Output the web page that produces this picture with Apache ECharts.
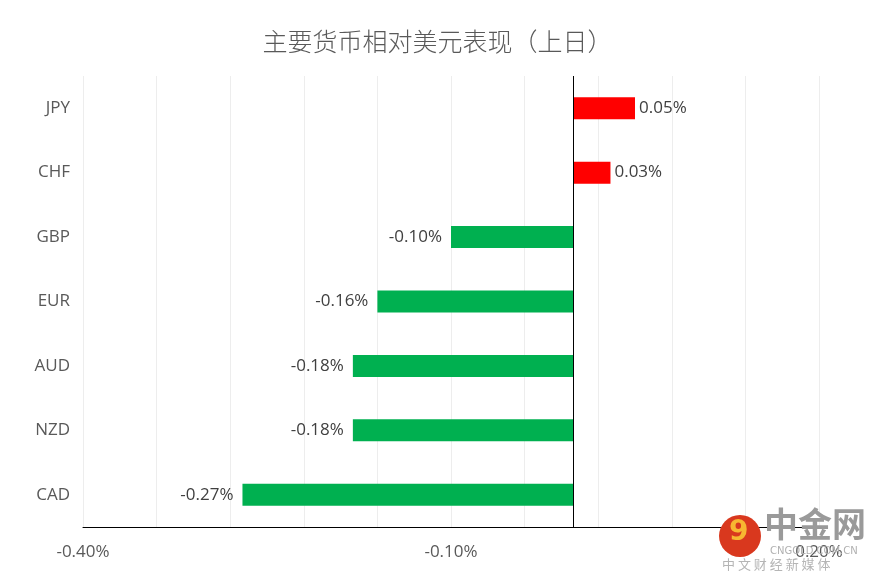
<!DOCTYPE html>
<html><head><meta charset="utf-8">
<script src="https://cdn.jsdelivr.net/npm/echarts@6/dist/echarts.min.js"></script>
<style>html,body{margin:0;padding:0;background:#fff}#c{width:875px;height:584px}</style>
</head><body><div id="c"></div>
<script>
var titleText = '主要货币相对美元表现（上日）';
var categories = ['JPY','CHF','GBP','EUR','AUD','NZD','CAD'];
var values = [0.05, 0.03, -0.10, -0.16, -0.18, -0.18, -0.27];
var axisMin = -0.40, axisMax = 0.20, axisStep = 0.06;
var labelledTicks = [-0.40, -0.10, 0.20];

var chart = echarts.init(document.getElementById('c'));
var font = '"Open Sans", "Noto Sans", sans-serif';
var data = values.map(function(v){
  return {
    value: v,
    itemStyle: {color: v >= 0 ? '#FF0000' : '#00B050'},
    label: {position: v >= 0 ? 'right' : 'left', distance: v >= 0 ? 4 : 9}
  };
});
chart.setOption({
  animation: false,
  title: {text: titleText, left: 'center', top: 24,
    textStyle: {fontFamily: '"Noto Sans CJK SC", sans-serif', fontSize: 25, fontWeight: 300, color: '#595959'}},
  grid: {left: 83, right: 56, top: 76, bottom: 57, containLabel: false},
  xAxis: {type: 'value', min: axisMin, max: axisMax, interval: axisStep,
    axisLine: {show: true, lineStyle: {color: '#000', width: 1}},
    axisTick: {show: false},
    splitLine: {show: true, lineStyle: {color: '#EDEDED', width: 1}},
    axisLabel: {margin: 17, color: '#595959', fontSize: 17, fontFamily: font,
      formatter: function(v){
        for (var i=0;i<labelledTicks.length;i++) if (Math.abs(v-labelledTicks[i])<1e-6) return labelledTicks[i].toFixed(2)+'%';
        return '';
      }}
  },
  yAxis: {type: 'category', data: categories, inverse: true,
    axisLine: {show: false}, axisTick: {show: false}, splitLine: {show: false},
    axisLabel: {margin: 13, color: '#595959', fontSize: 17, fontFamily: font}
  },
  series: [{
    type: 'bar', data: data, barWidth: 22,
    label: {show: true, color: '#404040', fontSize: 17, fontFamily: font,
      formatter: function(p){ return p.value.toFixed(2)+'%'; }},
    markLine: {silent: true, symbol: 'none', label: {show: false},
      lineStyle: {color: '#000', width: 1, type: 'solid'},
      data: [{xAxis: 0}]}
  }],
  graphic: [
    {type: 'circle', shape: {cx: 740, cy: 536, r: 21}, style: {fill: '#D9381E'}, z: 10},
    {type: 'text', left: 729, top: 519, style: {text: '9', font: 'bold 28px "DejaVu Sans"', fill: '#F7B731'}, z: 11},
    {type: 'text', left: 764, top: 507, style: {text: '中金网', font: 'bold 34px "Noto Sans CJK SC"', fill: '#9A9A9A'}, z: 10},
    {type: 'text', left: 770, top: 546, style: {text: 'CNGOLD.COM.CN', font: '10px "DejaVu Sans"', fill: '#B0B0B0'}, z: 10},
    {type: 'text', left: 722, top: 558, style: {text: '中 文 财 经 新 媒 体', font: '13px "Noto Sans CJK SC"', fill: '#B5B5B5'}, z: 10}
  ]
});
</script></body></html>
